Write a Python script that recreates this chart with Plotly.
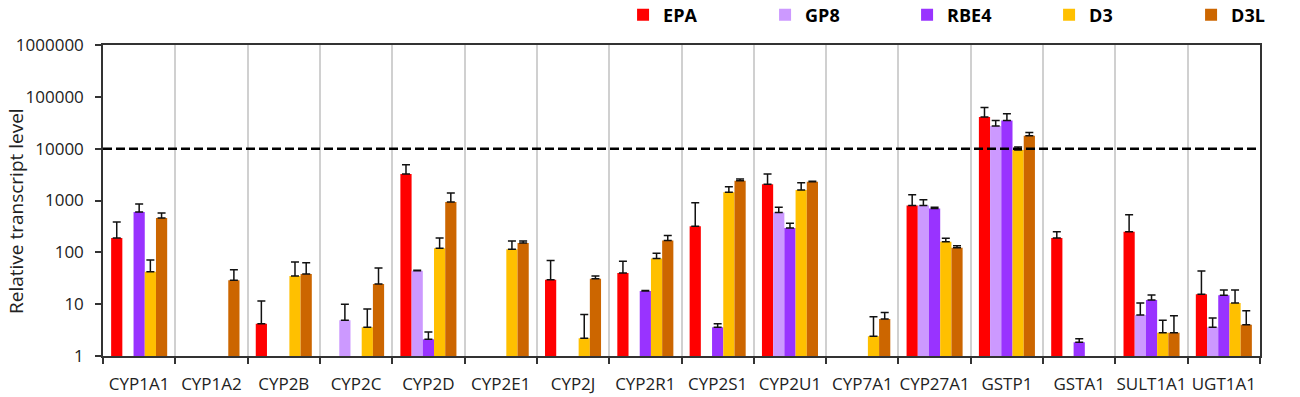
import plotly.graph_objects as go

categories = ["CYP1A1", "CYP1A2", "CYP2B", "CYP2C", "CYP2D", "CYP2E1", "CYP2J", "CYP2R1",
              "CYP2S1", "CYP2U1", "CYP7A1", "CYP27A1", "GSTP1", "GSTA1", "SULT1A1", "UGT1A1"]

epa_vals = [190, None, 4.2, None, 3250, None, 29.5, 40, 320, 2050, None, 800, 41000, 190, 250, 15.6]
epa_err = [195, None, 7.3, None, 1650, None, 40, 27, 580, 1200, None, 490, 21000, 60, 280, 28]

gp8_vals = [None, None, None, 4.9, 44, None, None, None, None, 590, None, 800, 27500, None, 6.2, 3.6]
gp8_err = [None, None, None, 5.1, 1, None, None, None, None, 150, None, 230, 7500, None, 4.3, 1.8]

rbe4_vals = [600, None, None, None, 2.1, None, None, 18, 3.6, 295, None, 700, 35000, 1.85, 12, 14.8]
rbe4_err = [260, None, None, None, 0.8, None, None, 0.3, 0.6, 70, None, 40, 12000, 0.3, 3, 3.9]

d3_vals = [42, None, 35, 3.6, 120, 115, 2.2, 76, 1450, 1600, 2.4, 160, 9400, None, 2.8, 10.5]
d3_err = [29, None, 30, 4.5, 70, 50, 4.1, 20, 400, 600, 3.3, 27, 1400, None, 2.1, 8.2]

d3l_vals = [460, 29, 38, 24.5, 940, 152, 31, 170, 2400, 2300, 5.2, 122, 17700, None, 2.8, 4.0]
d3l_err = [115, 17, 25, 25.5, 460, 13, 4, 42, 200, 50, 1.7, 12, 2800, None, 3.2, 3.5]

series_names = ["EPA", "GP8", "RBE4", "D3", "D3L"]
series_vals = [epa_vals, gp8_vals, rbe4_vals, d3_vals, d3l_vals]
series_errs = [epa_err, gp8_err, rbe4_err, d3_err, d3l_err]
series_colors = ["#FF0000", "#CC99FF", "#9933FF", "#FFC000", "#CC6600"]

y_tickvals = [1, 10, 100, 1000, 10000, 100000, 1000000]
y_ticktext = ["1", "10", "100", "1000", "10000", "100000", "1000000"]
threshold = 10000

FONT = "Open Sans"

fig = go.Figure()
for name, vals, errs, color in zip(series_names, series_vals, series_errs, series_colors):
    fig.add_trace(go.Bar(
        x=categories, y=vals, name=name,
        marker=dict(color=color, line=dict(width=0)),
        error_y=dict(type="data", symmetric=False, array=errs,
                     arrayminus=[0 if e is not None else None for e in errs],
                     color="#111111", thickness=1.5, width=4),
    ))

fig.add_hline(y=threshold, line=dict(color="black", width=2.5, dash="9px,4px"))

fig.update_layout(
    width=1300, height=397,
    margin=dict(l=103, r=40, t=45, b=41, autoexpand=False),
    paper_bgcolor="white", plot_bgcolor="white",
    barmode="group", bargap=0.225, bargroupgap=0,
    font=dict(family=FONT, size=17, color="#222222"),
    showlegend=True,
    legend=dict(orientation="h", x=0.4495, xanchor="left", y=1.0965, yanchor="middle",
                entrywidth=97, entrywidthmode="pixels",
                font=dict(family=FONT, size=18, color="black", weight="bold"),
                bgcolor="rgba(0,0,0,0)", traceorder="normal"),
    annotations=[dict(text="Relative transcript level", textangle=-90,
                      xref="paper", yref="paper", x=(16 - 103) / 1157, y=(356 - 211) / 311,
                      xanchor="center", yanchor="middle", showarrow=False,
                      font=dict(family=FONT, size=19, color="#222222"))],
)

fig.update_xaxes(
    type="category", tickson="boundaries", ticks="outside", ticklen=6, tickwidth=1.5,
    tickcolor="#333333", showgrid=True, gridcolor="#d0d0d0", gridwidth=1.5,
    showline=True, linecolor="#333333", linewidth=1.5, mirror=True, tickangle=0,
    ticklabelstandoff=12, tickfont=dict(family=FONT, size=17, color="#222222"),
)
fig.update_yaxes(
    type="log", range=[0, 6], tickvals=y_tickvals, ticktext=y_ticktext,
    ticks="outside", ticklen=6, tickwidth=1.5, tickcolor="#333333",
    showgrid=False, zeroline=False,
    showline=True, linecolor="#333333", linewidth=1.5, mirror=True,
    ticklabelstandoff=8, tickfont=dict(family=FONT, size=17, color="#222222"),
)

fig.write_html("out.html",
               config={"displayModeBar": False},
               post_script="document.body.style.margin='0';document.body.style.overflow='hidden';")
